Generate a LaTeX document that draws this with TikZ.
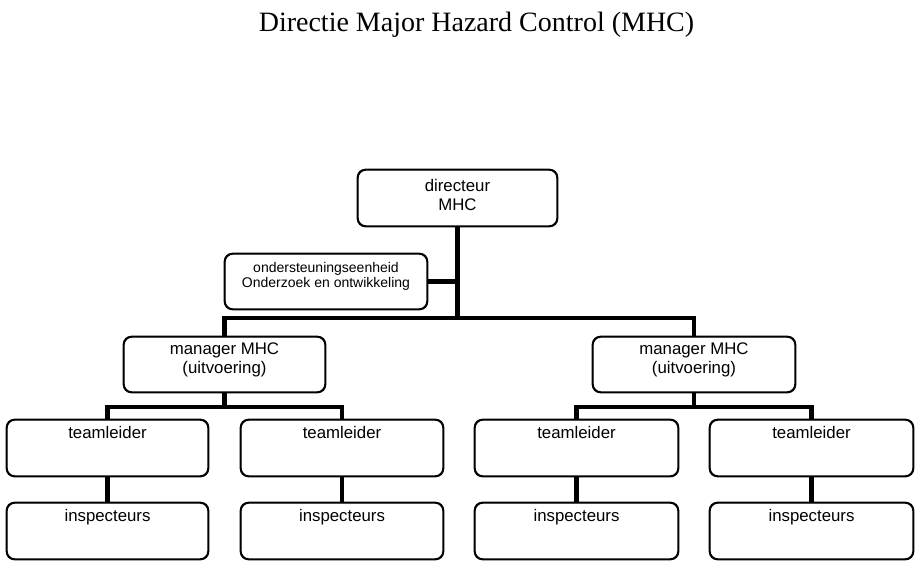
\documentclass[tikz,border=0pt]{standalone}
\usepackage{fontspec}
\setmainfont{Liberation Sans}
\newfontfamily\titlefont{Liberation Serif}
\begin{document}
\begin{tikzpicture}[x=1pt,y=-1pt,
  box/.style={draw=black,line width=1.3pt,rounded corners=8pt,fill=white,inner sep=0pt},
  txt/.style={font=\fontsize{16.8}{19}\selectfont,align=center,inner sep=0pt},
  smalltxt/.style={font=\fontsize{14}{14.5}\selectfont,align=center,inner sep=0pt},
  conn/.style={line width=4.5pt,line join=miter}]
\useasboundingbox (0,0) rectangle (918,571);
\fill[white] (0,0) rectangle (918,571);
\node[font=\titlefont\fontsize{28}{30}\selectfont,anchor=base,inner sep=0pt] (title) at (476.5,31) {Directie Major Hazard Control (MHC)};
% boxes geometry (coordinates only)
\coordinate (cdir) at (457.5,198);
\coordinate (cond) at (326,281.5);
\coordinate (cm1) at (224.5,364.5);
\coordinate (cm2) at (694,364.5);
% connectors first
\path (cdir) ++(0,120) coordinate (j0);
\path (cm1) ++(0,42.5) coordinate (j1);
\path (cm2) ++(0,42.5) coordinate (j2);
\node[box,minimum width=199pt,minimum height=56pt] (dir) at (cdir) {};
\node[box,minimum width=202pt,minimum height=55pt] (ond) at (cond) {};
\node[box,minimum width=201pt,minimum height=55pt] (m1) at (cm1) {};
\node[box,minimum width=202pt,minimum height=55pt] (m2) at (cm2) {};
\node[box,minimum width=201pt,minimum height=56pt] (t1) at (107.5,448) {};
\node[box,minimum width=202pt,minimum height=56pt] (t2) at (342,448) {};
\node[box,minimum width=203pt,minimum height=56pt] (t3) at (576.5,448) {};
\node[box,minimum width=203pt,minimum height=56pt] (t4) at (811.5,448) {};
\node[box,minimum width=201pt,minimum height=56pt] (i1) at (107.5,531) {};
\node[box,minimum width=202pt,minimum height=56pt] (i2) at (342,531) {};
\node[box,minimum width=203pt,minimum height=56pt] (i3) at (576.5,531) {};
\node[box,minimum width=203pt,minimum height=56pt] (i4) at (811.5,531) {};
\begin{scope}[on background layer/.style={}]
\end{scope}
% connectors
\draw[conn] (dir.south) -- (j0);
\draw[conn] (ond.east) -- (ond.east -| dir.south);
\draw[conn] (m1.north) |- (j0) -| (m2.north);
\draw[conn] (m1.south) -- (j1);
\draw[conn] (t1.north) |- (j1) -| (t2.north);
\draw[conn] (m2.south) -- (j2);
\draw[conn] (t3.north) |- (j2) -| (t4.north);
\draw[conn] (t1.south) -- (i1.north);
\draw[conn] (t2.south) -- (i2.north);
\draw[conn] (t3.south) -- (i3.north);
\draw[conn] (t4.south) -- (i4.north);
% redraw box outlines on top of connector ends
\foreach \n in {dir,ond,m1,m2,t1,t2,t3,t4,i1,i2,i3,i4}{
  \draw[line width=1.3pt,rounded corners=8pt] (\n.south west) rectangle (\n.north east);
}
% texts
\node[txt,yshift=3pt] (tdir) at (dir.center) {directeur\\MHC};
\node[smalltxt,yshift=5pt] (tond) at (ond.center) {ondersteuningseenheid\\Onderzoek en ontwikkeling};
\node[txt,yshift=4.5pt] (tm1) at (m1.center) {manager MHC\\(uitvoering)};
\node[txt,yshift=4.5pt] (tm2) at (m2.center) {manager MHC\\(uitvoering)};
\foreach \n in {t1,t2,t3,t4}{
  \node[txt,anchor=base] at ([yshift=-19.5pt]\n.north) {teamleider};
}
\foreach \n in {i1,i2,i3,i4}{
  \node[txt,anchor=base] at ([yshift=-19pt]\n.north) {inspecteurs};
}
\end{tikzpicture}
\end{document}
